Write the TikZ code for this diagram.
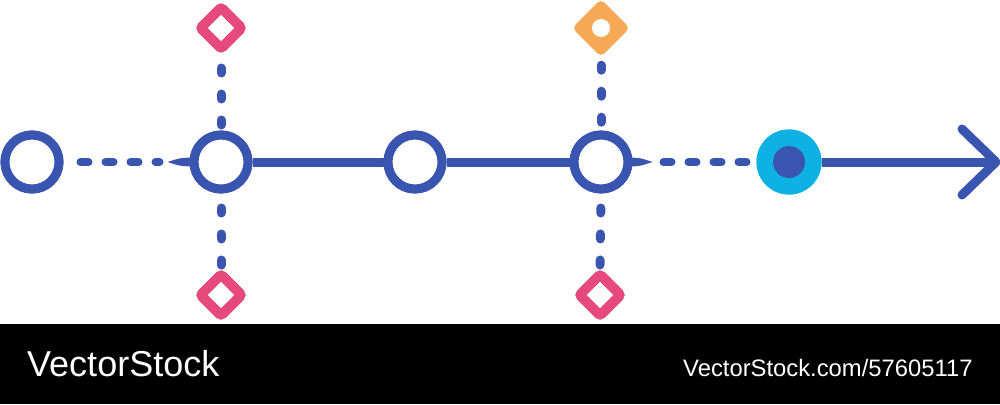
\documentclass[tikz,border=0pt]{standalone}
\usepackage{fontspec}
\setmainfont{Liberation Sans}
\usetikzlibrary{shapes.geometric,calc}
\definecolor{tblue}{HTML}{3A55AF}
\definecolor{tpink}{HTML}{E64A7C}
\definecolor{torange}{HTML}{F6A955}
\definecolor{tcyan}{HTML}{0DB2E2}
\tikzset{
  ring/.style={circle,draw=tblue,line width=9pt,minimum size=54pt,inner sep=0pt,fill=white},
  pinkdia/.style={diamond,draw=tpink,line width=10pt,line join=miter,minimum size=45pt,inner sep=0pt,rounded corners=2.5pt},
  solidline/.style={tblue,line width=9pt},
  hdash/.style={tblue,line width=8pt,line cap=round,dash pattern=on 8pt off 17pt},
  vdot/.style={tblue,line width=9pt,line cap=round,dash pattern=on 5pt off 21pt},
  taper/.style={fill=tblue}
}
\begin{document}
\begin{tikzpicture}[x=1pt,y=-1pt]
\useasboundingbox (0,0) rectangle (1000,404);
\fill[white] (0,0) rectangle (1000,324);
\fill[black] (0,324) rectangle (1000,404);

% circles
\node[ring] (c1) at (32,162) {};
\node[ring] (c2) at (221,162) {};
\node[ring] (c3) at (415,162) {};
\node[ring] (c4) at (601,162) {};
\node[circle,fill=tcyan,minimum size=65pt,inner sep=0pt] (c5) at (789,162) {};
\node[circle,fill=tblue,minimum size=32pt,inner sep=0pt] (c5in) at (789,162) {};
\coordinate (tip) at (996,162);
\coordinate (ah1) at (962,129);
\coordinate (ah2) at (962,195);

% diamonds
\node[pinkdia] (d1) at (221,28) {};
\node[pinkdia] (d3) at (221,295) {};
\node[pinkdia] (d4) at (600,295) {};
\node[diamond,fill=torange,minimum size=58pt,inner sep=0pt,rounded corners=5pt] (d2) at (601,28) {};
\node[circle,fill=white,minimum size=18pt,inner sep=0pt] (d2hole) at (601,28) {};

% connectors
\draw[solidline] (c2.east) -- (c3.west);
\draw[solidline] (c3.east) -- (c4.west);
\draw[solidline] (c5.east) -- (tip);
\draw[tblue,line width=9pt,line cap=round,line join=round] (ah1) -- (tip) -- (ah2);
\draw[hdash,shorten <=17pt,shorten >=30pt] (c1.east) -- (c2.west);
\draw[hdash,shorten <=31pt] (c4.east) -- (c5.west);
\draw[vdot,shorten <=12.5pt] (d1.south) -- (c2.north);
\draw[vdot,shorten <=14.5pt] (c2.south) -- (d3.north);
\draw[vdot,shorten <=8pt] (d2.south) -- (c4.north);
\draw[vdot,shorten <=14.5pt] (c4.south) -- (d4.north);
% tapers
\fill[taper] ($(c2.west)+(-22,0)$) .. controls ($(c2.west)+(-10,-4)$) .. ($(c2.west)+(2,-4.5)$) -- ($(c2.west)+(2,4.5)$) .. controls ($(c2.west)+(-10,4)$) .. cycle;
\fill[taper] ($(c4.east)+(20,0)$) .. controls ($(c4.east)+(8,-4)$) .. ($(c4.east)+(-2,-4.5)$) -- ($(c4.east)+(-2,4.5)$) .. controls ($(c4.east)+(8,4)$) .. cycle;

% redraw circles on top
\node[ring] at (c1) {};
\node[ring] at (c2) {};
\node[ring] at (c3) {};
\node[ring] at (c4) {};
\node[circle,fill=tcyan,minimum size=65pt,inner sep=0pt] at (c5) {};
\node[circle,fill=tblue,minimum size=32pt,inner sep=0pt] at (c5in) {};

% footer text
\node[anchor=base west,inner sep=0pt,text=white,font=\fontsize{36}{40}\selectfont] (logo) at (27,376) {VectorStock};
\node[anchor=base west,inner sep=0pt,text=white,font=\fontsize{23.8}{28}\selectfont] (url) at (683,376) {VectorStock.com/57605117};
\end{tikzpicture}
\end{document}
